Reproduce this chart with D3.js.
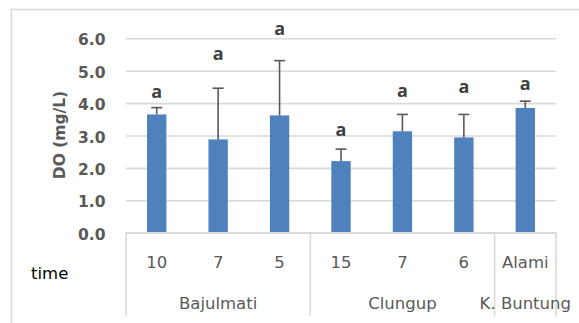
<!DOCTYPE html>
<html>
<head>
<meta charset="utf-8">
<script src="https://cdn.jsdelivr.net/npm/d3@7"></script>
<style>
  html, body { margin: 0; padding: 0; background: #fff; }
  svg { display: block; }
</style>
</head>
<body>
<svg id="chart" width="579" height="323"></svg>
<script>
// Dissolved oxygen per site and time
const groups = ["Bajulmati", "Clungup", "K. Buntung"];
const groupOf = [0, 0, 0, 1, 1, 1, 2];
const times = ["10", "7", "5", "15", "7", "6", "Alami"];
const meanDO = [3.65, 2.88, 3.62, 2.21, 3.13, 2.94, 3.85];
const sdDO = [0.21, 1.58, 1.69, 0.37, 0.52, 0.71, 0.21];
const letters = ["a", "a", "a", "a", "a", "a", "a"];
// height (mg/L) at which each significance letter sits
const letterLevel = [4.17, 5.33, 6.10, 2.98, 4.20, 4.30, 4.40];
const yTicks = [0, 1, 2, 3, 4, 5, 6];

const svg = d3.select("#chart");
const plot = { left: 126, right: 556, top: 38.3, bottom: 232.7 };

// chart frame
svg.append("rect")
  .attr("x", 11.5).attr("y", 9.5)
  .attr("width", 600).attr("height", 340)
  .attr("fill", "none").attr("stroke", "#d9d9d9").attr("stroke-width", 1.5);

const idx = d3.range(times.length);
const x = d3.scaleBand().domain(idx).range([plot.left, plot.right]).padding(0);
const y = d3.scaleLinear().domain([0, 6]).range([plot.bottom, plot.top]);
const barW = x.bandwidth() * 0.315;

// gridlines + y axis labels
const yAxis = d3.axisLeft(y).tickValues(yTicks)
  .tickSize(-(plot.right - plot.left))
  .tickFormat(d3.format(".1f"));
const gy = svg.append("g").attr("transform", `translate(${plot.left},0)`).call(yAxis);
gy.select(".domain").remove();
gy.selectAll(".tick line").attr("stroke", "#d9d9d9").attr("stroke-width", 1.6);
gy.selectAll(".tick text")
  .attr("x", -20.5).attr("dy", null).attr("y", 6.5)
  .attr("fill", "#595959")
  .style("font-family", "'DejaVu Sans', sans-serif")
  .style("font-size", "15.5px").style("font-weight", "bold");

// y axis title
svg.append("text")
  .attr("transform", `translate(64.5,135) rotate(-90)`)
  .attr("text-anchor", "middle")
  .attr("fill", "#595959")
  .style("font-family", "'DejaVu Sans', sans-serif")
  .style("font-size", "15.5px").style("font-weight", "bold")
  .text("DO (mg/L)");

// bars
svg.append("g").selectAll("rect").data(idx).join("rect")
  .attr("x", i => x(i) + x.bandwidth() / 2 - barW / 2)
  .attr("y", i => y(meanDO[i]))
  .attr("width", barW)
  .attr("height", i => y(0) - y(meanDO[i]))
  .attr("fill", "#4f81bd");

// error bars (mean + SD)
const eb = svg.append("g").attr("stroke", "#595959").attr("stroke-width", 1.6);
idx.forEach(i => {
  const cx = x(i) + x.bandwidth() / 2;
  const top = y(meanDO[i] + sdDO[i]);
  eb.append("line").attr("x1", cx).attr("x2", cx).attr("y1", y(meanDO[i])).attr("y2", top);
  eb.append("line").attr("x1", cx - 5.5).attr("x2", cx + 5.5).attr("y1", top).attr("y2", top);
});

// significance letters
svg.append("g").selectAll("text").data(idx).join("text")
  .attr("x", i => x(i) + x.bandwidth() / 2)
  .attr("y", i => y(letterLevel[i]))
  .attr("text-anchor", "middle")
  .attr("fill", "#404040")
  .style("font-family", "'Open Sans', sans-serif")
  .style("font-size", "18px").style("font-weight", "bold")
  .text(i => letters[i]);

// x axis line
svg.append("line")
  .attr("x1", plot.left).attr("x2", plot.right)
  .attr("y1", y(0)).attr("y2", y(0))
  .attr("stroke", "#d9d9d9").attr("stroke-width", 1.6);

// group separators
const bounds = [0];
idx.forEach(i => { if (i > 0 && groupOf[i] !== groupOf[i - 1]) bounds.push(i); });
const sepX = bounds.map(i => x(i)).concat([plot.right]);
svg.append("g").selectAll("line").data(sepX).join("line")
  .attr("x1", d => d).attr("x2", d => d)
  .attr("y1", y(0)).attr("y2", 316)
  .attr("stroke", "#d9d9d9").attr("stroke-width", 1.6);

const txtFont = "'DejaVu Sans', sans-serif";
// time labels
svg.append("g").selectAll("text").data(idx).join("text")
  .attr("x", i => x(i) + x.bandwidth() / 2)
  .attr("y", 267.5)
  .attr("text-anchor", "middle")
  .attr("fill", "#595959")
  .style("font-family", txtFont).style("font-size", "16.5px")
  .text(i => times[i]);

// group labels
svg.append("g").selectAll("text").data(groups).join("text")
  .attr("x", (g, gi) => (sepX[gi] + sepX[gi + 1]) / 2)
  .attr("y", 308.5)
  .attr("text-anchor", "middle")
  .attr("fill", "#595959")
  .style("font-family", txtFont).style("font-size", "16.5px")
  .text(g => g);

// row title
svg.append("text")
  .attr("x", 31).attr("y", 279)
  .attr("fill", "#000")
  .style("font-family", txtFont).style("font-size", "16.5px")
  .text("time");
</script>
</body>
</html>
